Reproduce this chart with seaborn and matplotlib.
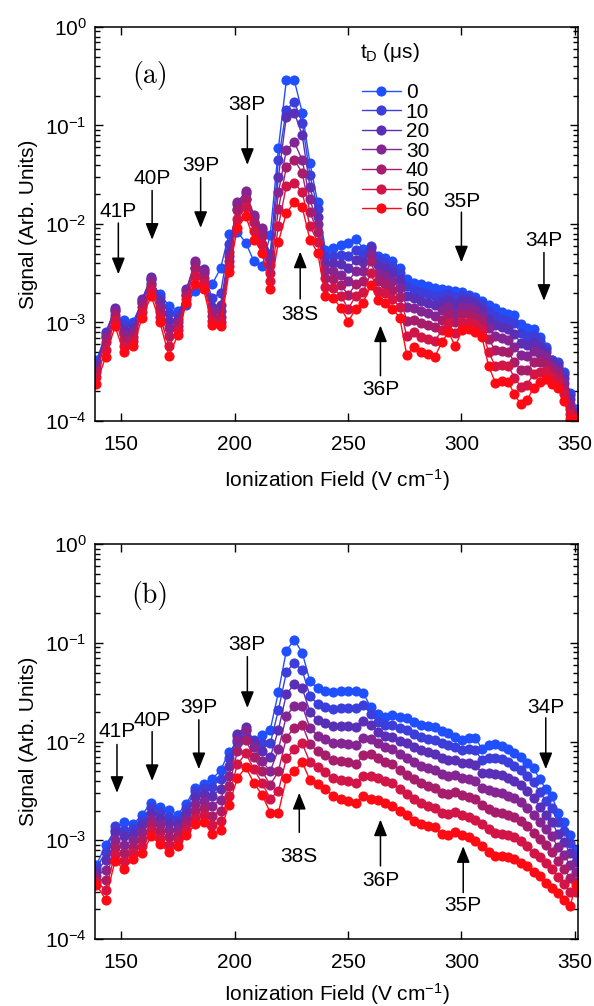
import numpy as np
import pandas as pd
import matplotlib
matplotlib.use("Agg")
import matplotlib.pyplot as plt
import seaborn as sns
from matplotlib.lines import Line2D
from matplotlib.ticker import LogLocator, NullFormatter, FixedLocator

# ---------------- data ----------------
field = [139.0, 143.1, 147.2, 151.2, 155.2, 159.2, 163.2, 167.1, 171.0, 174.9,
         178.7, 182.5, 186.3, 190.1, 193.8, 197.5, 201.2, 204.9, 208.5, 212.1,
         215.7, 219.3, 222.8, 226.3, 229.8, 233.2, 236.6, 240.0, 243.4, 246.8,
         250.1, 253.4, 256.7, 260.0, 263.2, 266.4, 269.6, 272.8, 275.9, 279.0,
         282.1, 285.2, 288.3, 291.3, 294.3, 297.3, 300.3, 303.3, 306.2, 309.1,
         312.0, 314.9, 317.8, 320.6, 323.4, 326.2, 329.0, 331.8, 334.5, 337.2,
         339.9, 342.6, 345.3, 347.9, 350.5]

delays = [0, 10, 20, 30, 40, 50, 60]

# panel (a): log10 of signal
a_0 = [-3.38, -3.15, -2.95, -2.97, -2.99, -2.80, -2.60, -2.71, -2.83, -2.88,
       -2.82, -2.68, -2.62, -2.61, -2.45, -2.10, -2.08, -2.19, -2.38, -2.43,
       -2.11, -1.23, -0.54, -0.54, -0.87, -1.38, -1.78, -2.26, -2.24, -2.21,
       -2.19, -2.15, -2.25, -2.28, -2.32, -2.35, -2.38, -2.45, -2.56, -2.60,
       -2.61, -2.63, -2.65, -2.66, -2.67, -2.68, -2.69, -2.72, -2.74, -2.78,
       -2.82, -2.85, -2.89, -2.91, -2.92, -3.02, -3.06, -3.07, -3.15, -3.25,
       -3.38, -3.40, -3.50, -3.72, -3.88]
a_10 = [-3.42, -3.10, -2.88, -3.02, -3.02, -2.77, -2.56, -2.74, -2.90, -2.92,
        -2.72, -2.45, -2.50, -2.75, -2.70, -2.20, -1.85, -1.75, -1.98, -2.10,
        -2.30, -1.35, -0.84, -0.76, -0.97, -1.50, -1.85, -2.32, -2.32, -2.31,
        -2.32, -2.26, -2.31, -2.22, -2.36, -2.39, -2.43, -2.50, -2.63, -2.67,
        -2.69, -2.71, -2.73, -2.72, -2.71, -2.74, -2.72, -2.74, -2.77, -2.81,
        -2.88, -2.93, -2.96, -2.98, -3.01, -3.11, -3.14, -3.13, -3.19, -3.27,
        -3.38, -3.41, -3.52, -3.74, -3.95]
a_20 = [-3.45, -3.12, -2.85, -3.08, -3.06, -2.76, -2.54, -2.78, -2.98, -2.96,
        -2.66, -2.40, -2.46, -2.84, -2.82, -2.28, -1.80, -1.69, -1.93, -2.06,
        -2.36, -1.52, -0.91, -0.87, -1.10, -1.62, -1.93, -2.40, -2.40, -2.41,
        -2.45, -2.37, -2.39, -2.24, -2.42, -2.45, -2.50, -2.57, -2.73, -2.75,
        -2.78, -2.80, -2.82, -2.79, -2.77, -2.81, -2.77, -2.78, -2.81, -2.86,
        -2.96, -3.03, -3.05, -3.07, -3.12, -3.21, -3.23, -3.20, -3.25, -3.30,
        -3.40, -3.44, -3.56, -3.78, -3.97]
a_30 = [-3.48, -3.15, -2.87, -3.12, -3.10, -2.79, -2.56, -2.84, -3.06, -3.00,
        -2.68, -2.38, -2.48, -2.88, -2.88, -2.33, -1.78, -1.67, -1.91, -2.04,
        -2.42, -1.68, -1.25, -1.17, -1.35, -1.75, -2.00, -2.47, -2.48, -2.52,
        -2.58, -2.48, -2.48, -2.30, -2.50, -2.53, -2.58, -2.65, -2.84, -2.85,
        -2.88, -2.90, -2.93, -2.87, -2.84, -2.90, -2.84, -2.84, -2.87, -2.93,
        -3.06, -3.14, -3.16, -3.18, -3.25, -3.33, -3.34, -3.29, -3.32, -3.35,
        -3.44, -3.49, -3.61, -3.83, -3.92]
a_40 = [-3.50, -3.20, -2.92, -3.18, -3.15, -2.84, -2.62, -2.89, -3.14, -3.04,
        -2.72, -2.45, -2.55, -2.93, -2.94, -2.38, -1.86, -1.75, -1.98, -2.12,
        -2.50, -1.85, -1.42, -1.35, -1.48, -1.88, -2.08, -2.55, -2.56, -2.62,
        -2.72, -2.61, -2.58, -2.38, -2.58, -2.61, -2.67, -2.74, -2.98, -2.97,
        -3.01, -3.03, -3.05, -2.97, -2.92, -3.00, -2.91, -2.91, -2.94, -3.00,
        -3.17, -3.28, -3.29, -3.30, -3.40, -3.48, -3.48, -3.40, -3.40, -3.42,
        -3.49, -3.54, -3.67, -3.88, -3.96]
a_50 = [-3.55, -3.28, -2.97, -3.24, -3.19, -2.89, -2.67, -2.94, -3.24, -3.08,
        -2.76, -2.53, -2.60, -2.98, -2.99, -2.43, -1.95, -1.83, -2.07, -2.20,
        -2.58, -2.02, -1.61, -1.58, -1.68, -2.02, -2.18, -2.64, -2.65, -2.73,
        -2.86, -2.73, -2.69, -2.50, -2.68, -2.70, -2.76, -2.84, -3.14, -3.10,
        -3.15, -3.17, -3.19, -3.08, -3.01, -3.11, -2.99, -2.99, -3.02, -3.07,
        -3.30, -3.44, -3.43, -3.44, -3.56, -3.65, -3.63, -3.52, -3.50, -3.49,
        -3.55, -3.60, -3.73, -3.93, -3.99]
a_60 = [-3.62, -3.35, -3.04, -3.30, -3.24, -2.95, -2.73, -3.00, -3.34, -3.13,
        -2.80, -2.61, -2.66, -3.03, -3.04, -2.49, -2.04, -1.92, -2.16, -2.29,
        -2.66, -2.18, -1.89, -1.78, -1.83, -2.16, -2.29, -2.73, -2.75, -2.85,
        -2.99, -2.86, -2.80, -2.62, -2.77, -2.80, -2.86, -2.95, -3.33, -3.25,
        -3.30, -3.32, -3.35, -3.20, -3.10, -3.24, -3.08, -3.07, -3.10, -3.15,
        -3.44, -3.61, -3.59, -3.60, -3.73, -3.83, -3.79, -3.66, -3.60, -3.57,
        -3.62, -3.66, -3.80, -3.98, -3.98]

# panel (b): log10 of signal
b_0 = [-3.25, -3.05, -2.90, -2.82, -2.84, -2.74, -2.62, -2.66, -2.69, -2.74,
       -2.63, -2.47, -2.43, -2.38, -2.29, -2.11, -2.00, -1.95, -2.01, -1.93,
       -1.88, -1.50, -1.08, -0.97, -1.10, -1.39, -1.46, -1.49, -1.50, -1.49,
       -1.49, -1.49, -1.51, -1.65, -1.72, -1.75, -1.73, -1.75, -1.76, -1.80,
       -1.83, -1.84, -1.85, -1.89, -1.91, -1.95, -1.98, -1.96, -1.96, -2.08,
       -2.04, -2.03, -2.05, -2.08, -2.12, -2.16, -2.22, -2.27, -2.38, -2.48,
       -2.55, -2.72, -2.82, -2.95, -3.10]
b_10 = [-3.28, -3.12, -2.86, -2.90, -2.88, -2.79, -2.66, -2.71, -2.76, -2.79,
        -2.67, -2.50, -2.47, -2.46, -2.38, -2.17, -1.94, -1.88, -1.98, -2.01,
        -2.02, -1.68, -1.30, -1.20, -1.28, -1.54, -1.62, -1.65, -1.67, -1.66,
        -1.66, -1.66, -1.63, -1.72, -1.80, -1.83, -1.83, -1.86, -1.88, -1.92,
        -1.95, -1.97, -1.98, -2.02, -2.04, -2.06, -2.09, -2.08, -2.09, -2.19,
        -2.17, -2.17, -2.18, -2.21, -2.25, -2.29, -2.35, -2.41, -2.51, -2.60,
        -2.67, -2.82, -2.91, -3.03, -3.15]
b_20 = [-3.32, -3.20, -2.92, -2.96, -2.94, -2.85, -2.72, -2.77, -2.83, -2.84,
        -2.72, -2.56, -2.53, -2.55, -2.48, -2.25, -1.92, -1.85, -2.00, -2.10,
        -2.16, -1.88, -1.52, -1.42, -1.46, -1.70, -1.78, -1.81, -1.84, -1.84,
        -1.84, -1.85, -1.79, -1.83, -1.90, -1.94, -1.95, -1.99, -2.02, -2.06,
        -2.09, -2.11, -2.13, -2.17, -2.19, -2.19, -2.22, -2.22, -2.24, -2.32,
        -2.32, -2.33, -2.34, -2.37, -2.40, -2.44, -2.50, -2.57, -2.66, -2.74,
        -2.81, -2.94, -3.02, -3.13, -3.22]
b_30 = [-3.36, -3.30, -3.00, -3.05, -3.00, -2.92, -2.78, -2.84, -2.90, -2.89,
        -2.78, -2.63, -2.60, -2.65, -2.59, -2.35, -1.98, -1.88, -2.06, -2.20,
        -2.30, -2.08, -1.74, -1.64, -1.64, -1.86, -1.94, -1.97, -2.01, -2.02,
        -2.03, -2.04, -1.96, -1.97, -2.02, -2.06, -2.08, -2.13, -2.17, -2.21,
        -2.25, -2.27, -2.29, -2.33, -2.35, -2.34, -2.37, -2.38, -2.40, -2.47,
        -2.49, -2.51, -2.52, -2.55, -2.57, -2.61, -2.67, -2.74, -2.82, -2.89,
        -2.96, -3.07, -3.15, -3.25, -3.32]
b_40 = [-3.40, -3.40, -3.07, -3.13, -3.07, -2.99, -2.84, -2.91, -2.97, -2.95,
        -2.84, -2.70, -2.67, -2.75, -2.70, -2.45, -2.10, -1.98, -2.16, -2.30,
        -2.44, -2.30, -1.96, -1.86, -1.83, -2.03, -2.10, -2.14, -2.19, -2.20,
        -2.21, -2.23, -2.14, -2.13, -2.17, -2.21, -2.23, -2.29, -2.34, -2.38,
        -2.42, -2.45, -2.47, -2.52, -2.53, -2.51, -2.54, -2.56, -2.58, -2.64,
        -2.68, -2.71, -2.72, -2.74, -2.76, -2.80, -2.86, -2.93, -2.99, -3.05,
        -3.12, -3.21, -3.29, -3.38, -3.42]
b_50 = [-3.42, -3.50, -3.14, -3.21, -3.13, -3.06, -2.90, -2.98, -3.05, -3.00,
        -2.90, -2.77, -2.74, -2.85, -2.80, -2.55, -2.23, -2.12, -2.28, -2.42,
        -2.58, -2.50, -2.17, -2.08, -2.02, -2.21, -2.26, -2.31, -2.37, -2.39,
        -2.40, -2.42, -2.35, -2.35, -2.37, -2.40, -2.42, -2.48, -2.53, -2.58,
        -2.62, -2.65, -2.67, -2.72, -2.73, -2.71, -2.74, -2.76, -2.79, -2.84,
        -2.89, -2.93, -2.94, -2.95, -2.97, -3.01, -3.06, -3.13, -3.17, -3.23,
        -3.29, -3.37, -3.44, -3.52, -3.52]
b_60 = [-3.45, -3.60, -3.21, -3.29, -3.19, -3.13, -2.96, -3.04, -3.12, -3.06,
        -2.95, -2.84, -2.81, -2.94, -2.90, -2.64, -2.37, -2.26, -2.42, -2.54,
        -2.72, -2.72, -2.37, -2.30, -2.21, -2.39, -2.43, -2.48, -2.55, -2.58,
        -2.60, -2.62, -2.55, -2.58, -2.59, -2.62, -2.65, -2.70, -2.74, -2.80,
        -2.84, -2.86, -2.87, -2.94, -2.95, -2.92, -2.95, -2.97, -3.01, -3.06,
        -3.12, -3.16, -3.16, -3.17, -3.19, -3.23, -3.26, -3.32, -3.36, -3.43,
        -3.48, -3.53, -3.60, -3.67, -3.45]

# annotation labels: (label, x, log10 text, log10 arrow start, log10 arrow tip)
labels_a = [("41P", 148.7, -1.87, -1.99, -2.51),
            ("40P", 163.6, -1.54, -1.66, -2.16),
            ("39P", 185.0, -1.41, -1.53, -2.04),
            ("38P", 205.6, -0.79, -0.90, -1.40),
            ("38S", 228.9, -2.92, -2.76, -2.28),
            ("36P", 264.3, -3.68, -3.54, -3.03),
            ("35P", 300.0, -1.77, -1.88, -2.39),
            ("34P", 336.4, -2.17, -2.29, -2.78)]
labels_b = [("41P", 148.1, -1.90, -2.03, -2.52),
            ("40P", 163.6, -1.79, -1.90, -2.40),
            ("39P", 184.2, -1.66, -1.78, -2.28),
            ("38P", 205.6, -1.02, -1.14, -1.66),
            ("38S", 228.5, -3.16, -2.92, -2.52),
            ("36P", 264.3, -3.41, -3.26, -2.79),
            ("35P", 300.8, -3.66, -3.53, -3.06),
            ("34P", 337.2, -1.66, -1.76, -2.28)]

colors = ["#1f4fff", "#3b3edb", "#5a2fb8", "#852493", "#a81c6c", "#d31447", "#ff0a14"]

# ---------------- style ----------------
sns.set_style("ticks")
plt.rcParams["font.family"] = ["Liberation Sans", "DejaVu Sans"]
plt.rcParams["mathtext.fontset"] = "custom"
plt.rcParams["mathtext.rm"] = "Liberation Sans"
plt.rcParams["mathtext.it"] = "Liberation Sans:italic"
plt.rcParams["mathtext.bf"] = "Liberation Sans:bold"
plt.rcParams["mathtext.sf"] = "Liberation Sans"
plt.rcParams["axes.linewidth"] = 1.1
for k in ["text.color", "axes.labelcolor", "xtick.color", "ytick.color", "axes.edgecolor"]:
    plt.rcParams[k] = "black"

FS = 15


def long_df(series):
    rows = []
    for d, vals in zip(delays, series):
        for f, v in zip(field, vals):
            rows.append((f, 10.0 ** v, d))
    return pd.DataFrame(rows, columns=["field", "signal", "delay"])


def draw_panel(ax, series, labels, tag, tagpos):
    df = long_df(series)
    sns.lineplot(data=df, x="field", y="signal", hue="delay", hue_order=delays,
                 palette=dict(zip(delays, colors)), marker="o", markersize=7.3,
                 markeredgewidth=0, linewidth=1.0, legend=False,
                 estimator=None, errorbar=None, ax=ax)
    ax.set_yscale("log")
    ax.set_ylim(1e-4, 1)
    ax.set_xlim(138.4, 351.4)
    ax.xaxis.set_major_locator(FixedLocator([150, 200, 250, 300, 350]))
    ax.yaxis.set_major_locator(LogLocator(base=10, numticks=10))
    ax.yaxis.set_minor_locator(LogLocator(base=10, subs=np.arange(2, 10), numticks=20))
    ax.yaxis.set_minor_formatter(NullFormatter())
    ax.tick_params(which="both", direction="in", top=True, right=True,
                   labelsize=FS, width=1.0)
    ax.tick_params(which="major", length=6)
    ax.tick_params(which="minor", length=3.5)
    ax.tick_params(axis="x", pad=10)
    ax.tick_params(axis="y", pad=6)
    for sp in ax.spines.values():
        sp.set_visible(True)
        sp.set_color("black")
    ax.set_ylabel("Signal (Arb. Units)", fontsize=FS)
    ax.set_xlabel("Ionization Field (V cm$^{-1}$)", fontsize=FS)
    ax.yaxis.set_label_coords(-0.118, 0.5)
    for lab, x, lt, ls, lp in labels:
        ax.annotate("", xy=(x, 10 ** lp), xytext=(x, 10 ** ls),
                    arrowprops=dict(arrowstyle="-|>,head_length=1.0,head_width=0.4",
                                    color="black", lw=1.1, shrinkA=0, shrinkB=0))
        ax.text(x, 10 ** lt, lab, ha="center", va="center", fontsize=FS)
    ax.text(tagpos[0], 10 ** tagpos[1], tag, family="cmr10", fontsize=20,
            ha="center", va="center")


fig = plt.figure(figsize=(5.94, 10.06), dpi=100)
ax1 = fig.add_axes([0.1599, 0.5815, 0.8131, 0.3917])
ax2 = fig.add_axes([0.1599, 0.0666, 0.8131, 0.3926])

draw_panel(ax1, [a_0, a_10, a_20, a_30, a_40, a_50, a_60], labels_a, "(a)", (162.8, -0.49))
draw_panel(ax2, [b_0, b_10, b_20, b_30, b_40, b_50, b_60], labels_b, "(b)", (162.8, -0.52))
ax1.xaxis.set_label_coords(0.5, -0.117)
ax2.xaxis.set_label_coords(0.5, -0.106)

handles = [Line2D([0], [0], color=c, marker="o", markersize=7.3, markeredgewidth=0, lw=1.0)
           for c in colors]
ax1.legend(handles, [str(d) for d in delays],
           loc="upper left", bbox_to_anchor=(0.553, 0.858), frameon=False,
           fontsize=FS, handlelength=1.85, handletextpad=0.25,
           labelspacing=0.03, borderpad=0, borderaxespad=0)
ax1.text(0.549, 0.935, "t$_\\mathrm{D}$ (μs)", transform=ax1.transAxes,
         ha="left", va="center", fontsize=FS)

fig.savefig("out.png", dpi=100, facecolor="white")
